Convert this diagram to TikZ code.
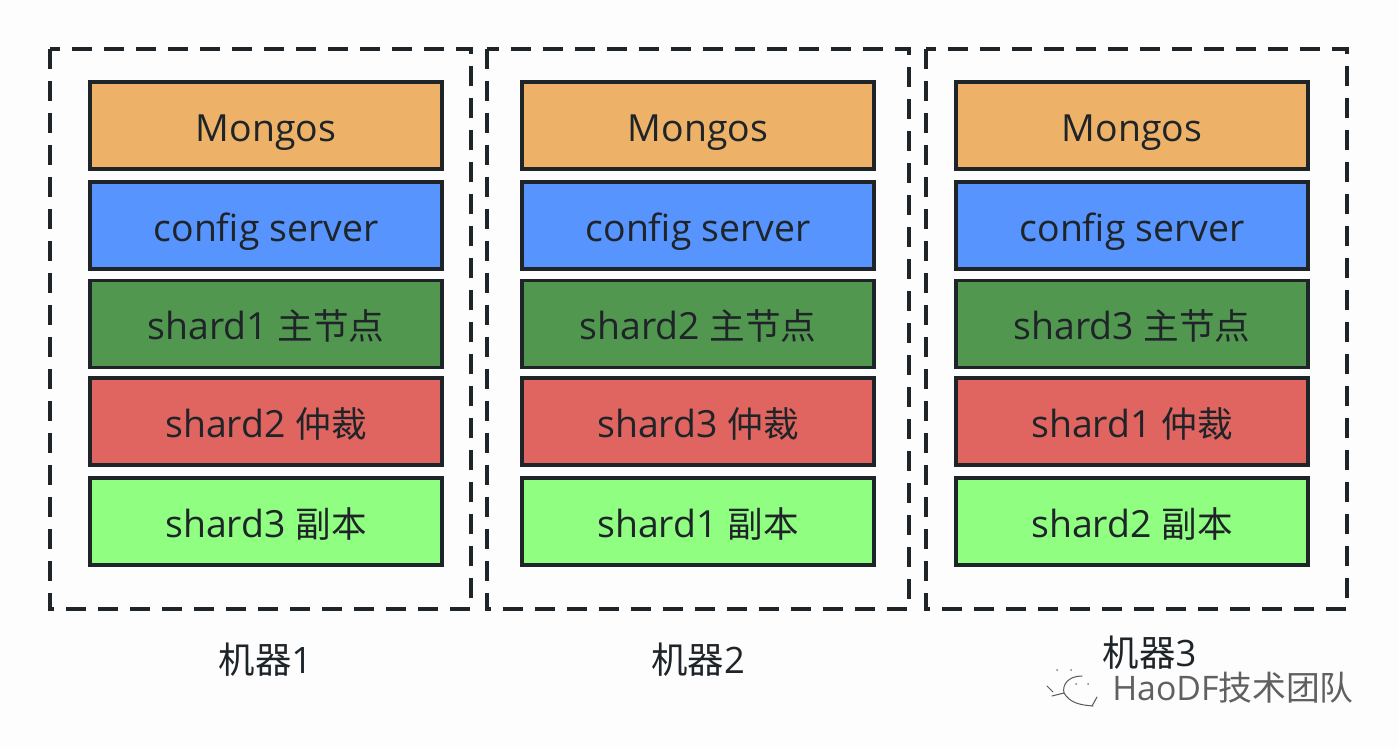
\documentclass[tikz,border=0pt]{standalone}
\usepackage{fontspec}
\setmainfont{Open Sans}
\newfontfamily\cjk{Noto Sans CJK SC}
\definecolor{mongos}{HTML}{EDB267}
\definecolor{cfgblue}{HTML}{5894FE}
\definecolor{primgreen}{HTML}{52974F}
\definecolor{arbred}{HTML}{E0645F}
\definecolor{replgreen}{HTML}{90FE80}
\definecolor{ink}{HTML}{1E2428}
\definecolor{bgpage}{HTML}{FDFDFE}
\tikzset{
  x=0.5pt,y=-0.5pt,
  machine/.style={draw=ink,line width=1.6pt,dash pattern=on 10pt off 6pt,line cap=butt},
  layer/.style={draw=ink,line width=1.7pt,minimum width=176pt,minimum height=43.5pt,inner sep=0pt,text=ink,text height=16pt,text depth=0pt,font=\fontsize{18.7}{20}\selectfont},
  caption/.style={text=ink,font=\fontsize{18.2}{20}\selectfont,inner sep=0pt},
  wmline/.style={draw=gray!70!black,line width=0.5pt,line cap=round},
}
\newcommand{\zh}[1]{{\cjk\fontsize{17.8}{20}\selectfont #1}}
\newcommand{\zc}[1]{{\cjk\fontsize{18.2}{20}\selectfont #1}}
\begin{document}
\begin{tikzpicture}
\useasboundingbox (0,0) rectangle (1398,748);
\fill[bgpage] (0,0) rectangle (1398,748);
\draw[machine] (50,49) rectangle (471,609);
\draw[machine] (487,49) rectangle (909,609);
\draw[machine] (926,49) rectangle (1347,609);
\node[layer,fill=mongos] (a1) at (266,125.5) {Mongos};
\node[layer,fill=cfgblue] (a2) at (266,225.5) {config server};
\node[layer,fill=primgreen] (a3) at (266,324) {shard1 \zh{主节点}};
\node[layer,fill=arbred] (a4) at (266,421.5) {shard2 \zh{仲裁}};
\node[layer,fill=replgreen] (a5) at (266,521.5) {shard3 \zh{副本}};
\node[layer,fill=mongos] (b1) at (698,125.5) {Mongos};
\node[layer,fill=cfgblue] (b2) at (698,225.5) {config server};
\node[layer,fill=primgreen] (b3) at (698,324) {shard2 \zh{主节点}};
\node[layer,fill=arbred] (b4) at (698,421.5) {shard3 \zh{仲裁}};
\node[layer,fill=replgreen] (b5) at (698,521.5) {shard1 \zh{副本}};
\node[layer,fill=mongos] (c1) at (1132,125.5) {Mongos};
\node[layer,fill=cfgblue] (c2) at (1132,225.5) {config server};
\node[layer,fill=primgreen] (c3) at (1132,324) {shard3 \zh{主节点}};
\node[layer,fill=arbred] (c4) at (1132,421.5) {shard1 \zh{仲裁}};
\node[layer,fill=replgreen] (c5) at (1132,521.5) {shard2 \zh{副本}};
\node[caption] (m1) at (265.5,660) {\zc{机器}1};
\node[caption] (m2) at (698,660) {\zc{机器}2};
\node[caption] (m3) at (1149.5,653) {\zc{机器}3};
\node[inner sep=0pt,text=gray!75!black,font=\fontsize{16.9}{20}\selectfont] (wm) at (1233,688) {HaoDF{\cjk 技术团队}};
\draw[wmline] (1064,693) .. controls (1062,685) and (1068,676) .. (1082,676);
\draw[wmline] (1064,693) .. controls (1070,703) and (1080,705) .. (1093,706);
\draw[wmline] (1052,696) -- (1064,693);
\draw[wmline] (1047,686) -- (1053,692);
\draw[wmline] (1092,706) -- (1097,697);
\fill[gray] (1057,670) circle (1) (1071,670) circle (1) (1076,684) circle (1) (1088,684) circle (1);
\end{tikzpicture}
\end{document}
